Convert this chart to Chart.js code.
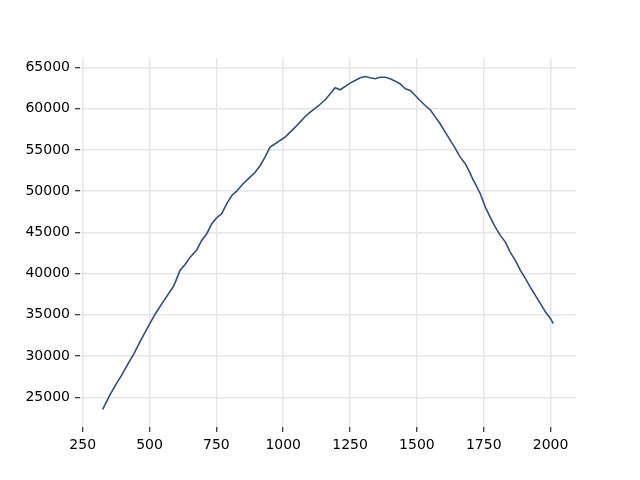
<!DOCTYPE html>
<html>
<head>
<meta charset="utf-8">
<script src="https://cdn.jsdelivr.net/npm/chart.js@4/dist/chart.umd.min.js"></script>
<style>
  html, body { margin: 0; padding: 0; background: #fff; }
  canvas { display: block; }
</style>
</head>
<body>
<canvas id="myChart" width="640" height="480"></canvas>
<script>
const xValues = [325, 351, 376, 397, 422, 442, 467, 494, 522, 550, 588, 595, 614, 633, 652, 677, 695, 714, 733, 751,
    770, 789, 808, 826, 850, 876, 895, 914, 932, 951, 970, 988, 1007, 1026, 1045, 1063, 1082, 1101, 1130, 1157,
    1176, 1194, 1213, 1232, 1250, 1269, 1288, 1307, 1325, 1344, 1363, 1382, 1400, 1419, 1438, 1457, 1475, 1494, 1512, 1531,
    1550, 1569, 1587, 1606, 1625, 1644, 1662, 1681, 1700, 1708, 1718, 1737, 1756, 1774, 1793, 1812, 1831, 1849, 1868, 1887,
    1906, 1924, 1943, 1962, 1981, 2000, 2010];
const yValues = [23545, 25240, 26660, 27750, 29200, 30300, 31900, 33520, 35140, 36550, 38370, 38850, 40390, 41120, 42000, 42900, 44030, 44840, 46050, 46780,
    47270, 48480, 49480, 50000, 50900, 51700, 52300, 53120, 54130, 55340, 55750, 56150, 56550, 57160, 57760, 58370, 59060, 59580, 60300, 61080,
    61810, 62540, 62300, 62700, 63100, 63420, 63750, 63910, 63750, 63630, 63820, 63820, 63630, 63340, 63000, 62420, 62210, 61600, 61000, 60390,
    59870, 58980, 58180, 57160, 56150, 55150, 54130, 53330, 52120, 51510, 50900, 49690, 48070, 46860, 45640, 44640, 43820, 42610, 41610, 40390,
    39390, 38370, 37360, 36360, 35340, 34540, 33930];
const xTicks = [250, 500, 750, 1000, 1250, 1500, 1750, 2000];
const yTicks = [25000, 30000, 35000, 40000, 45000, 50000, 55000, 60000, 65000];

const points = xValues.map((x, i) => ({ x: x, y: yValues[i] }));
const tickFont = { family: 'DejaVu Sans', size: 14 };

const ctx = document.getElementById('myChart').getContext('2d');
const myChart = new Chart(ctx, {
    type: 'line',
    data: {
        datasets: [
            {
                data: points,
                borderColor: '#30507a',
                borderWidth: 1.6,
                pointRadius: 0,
                tension: 0
            }
        ]
    },
    options: {
        responsive: false,
        animation: false,
        devicePixelRatio: 1,
        layout: { padding: { top: 58, right: 64, left: 0, bottom: 0 } },
        plugins: {
            legend: { display: false },
            tooltip: { enabled: false }
        },
        scales: {
            x: {
                type: 'linear',
                min: 240,
                max: 2095,
                afterBuildTicks: (scale) => { scale.ticks = xTicks.map(v => ({ value: v })); },
                afterFit: (scale) => { scale.height = 53; },
                border: { display: false },
                grid: { color: '#e6e6e6', lineWidth: 1.5, tickColor: '#000', tickLength: 5, tickWidth: 1 },
                ticks: { font: tickFont, color: '#000', padding: 5, maxRotation: 0, autoSkip: false, callback: (v) => String(v) }
            },
            y: {
                min: 21400,
                max: 66150,
                afterBuildTicks: (scale) => { scale.ticks = yTicks.map(v => ({ value: v })); },
                afterFit: (scale) => { scale.width = 80; },
                border: { display: false },
                grid: { color: '#e6e6e6', lineWidth: 1.5, tickColor: '#000', tickLength: 5, tickWidth: 1 },
                ticks: { font: tickFont, color: '#000', padding: 5, autoSkip: false, callback: (v) => String(v) }
            }
        }
    }
});
</script>
</body>
</html>
